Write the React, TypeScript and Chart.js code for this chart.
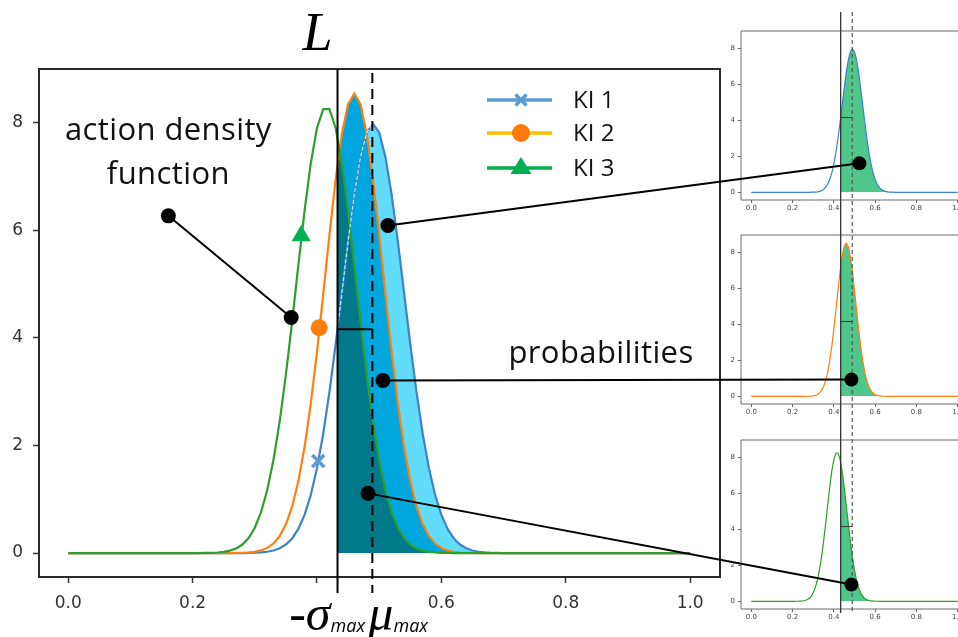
import React, { useEffect, useRef } from 'react';
import { Chart, registerables } from 'chart.js';

Chart.register(...registerables);

// ---------- data ----------
const xs = [0, 0.20, 0.21, 0.22, 0.23, 0.24, 0.25, 0.26, 0.27, 0.28, 0.29, 0.30, 0.31, 0.32, 0.33, 0.34, 0.35, 0.36, 0.37, 0.38, 0.39, 0.40, 0.41, 0.42, 0.43, 0.44, 0.45, 0.46, 0.47, 0.48, 0.49, 0.50, 0.51, 0.52, 0.53, 0.54, 0.55, 0.56, 0.57, 0.58, 0.59, 0.60, 0.61, 0.62, 0.63, 0.64, 0.65, 0.66, 0.67, 0.68, 0.69, 0.70, 1.0];
const ki1 = [0, 0, 0, 0, 0, 0, 0, 0, 0, 0, 0.003, 0.006, 0.012, 0.025, 0.048, 0.089, 0.158, 0.272, 0.448, 0.710, 1.080, 1.579, 2.218, 2.995, 3.884, 4.840, 5.794, 6.666, 7.366, 7.822, 7.98, 7.822, 7.366, 6.666, 5.794, 4.840, 3.884, 2.995, 2.218, 1.579, 1.080, 0.710, 0.448, 0.272, 0.158, 0.089, 0.048, 0.025, 0.012, 0.006, 0.003, 0, 0];
const ki2 = [0, 0, 0, 0, 0, 0, 0, 0, 0.002, 0.005, 0.011, 0.024, 0.049, 0.096, 0.177, 0.315, 0.534, 0.863, 1.334, 1.969, 2.778, 3.742, 4.815, 5.918, 6.948, 7.792, 8.346, 8.54, 8.346, 7.792, 6.948, 5.918, 4.815, 3.742, 2.778, 1.969, 1.334, 0.863, 0.534, 0.315, 0.177, 0.096, 0.049, 0.024, 0.011, 0.005, 0.002, 0, 0, 0, 0, 0, 0];
const ki3 = [0, 0, 0, 0.002, 0.005, 0.011, 0.023, 0.045, 0.087, 0.159, 0.279, 0.471, 0.759, 1.171, 1.731, 2.449, 3.318, 4.305, 5.349, 6.363, 7.248, 7.904, 8.255, 8.255, 7.904, 7.248, 6.363, 5.349, 4.305, 3.318, 2.449, 1.731, 1.171, 0.759, 0.471, 0.279, 0.159, 0.087, 0.045, 0.023, 0.011, 0.005, 0.002, 0, 0, 0, 0, 0, 0, 0, 0, 0, 0];

const seriesNames = ['KI 1', 'KI 2', 'KI 3'];
const markerXs = [0.402, 0.4035, 0.3746];
const markerYs = [1.71, 4.19, 5.9];

const xTicks = [0, 0.2, 0.4, 0.6, 0.8, 1.0];
const yTicks = [0, 2, 4, 6, 8];
const hiddenXTick = 0.4;

const L_X = 0.433;
const MU_X = 0.489;
const BRACKET_Y = 4.16;

const labelDotFrom = [0.161, 6.27];
const labelDotTo = [0.3585, 4.38];
const probDotsMain = [[0.514, 6.09], [0.506, 3.21], [0.482, 1.11]];
const probDotsSmall = [[0.524, 1.61], [0.485, 0.93], [0.485, 0.93]];

// ---------- styles ----------
const C = {
  ki1: '#3d83c8', ki2: '#ff7f0e', ki3: '#2ca02c',
  fill1: '#62dcfb', fill2: '#00a7de', fill3: '#007a8a',
  smallFill: '#4fc78a',
  leg1: '#5b9bd5', leg2: '#ffc000', leg3: '#00b050', legMk2: '#ff7a0a',
  axis: '#2a2a2a', tick: '#333',
};
const TEXT_FONT = '"Open Sans"';

const SMALL_LEFT = 720;
const SMALL_W = 250;
const smallSpecs = [
  { vals: ki1, color: C.ki1, top: 0, height: 217, plotTop: 31, plotBottom: 200 },
  { vals: ki2, color: C.ki2, top: 217, height: 203, plotTop: 235, plotBottom: 404 },
  { vals: ki3, color: C.ki3, top: 420, height: 217, plotTop: 440, plotBottom: 609 },
];

function curvePath(ctx: CanvasRenderingContext2D, chart: any, vals: number[]) {
  const x = chart.scales.x, y = chart.scales.y;
  ctx.beginPath();
  xs.forEach((v, i) => {
    const px = x.getPixelForValue(v), py = y.getPixelForValue(vals[i]);
    if (i === 0) ctx.moveTo(px, py); else ctx.lineTo(px, py);
  });
}

function fillCurve(ctx: CanvasRenderingContext2D, chart: any, vals: number[], color: string) {
  const { chartArea: a, scales } = chart;
  const x = scales.x, y = scales.y;
  const xl = x.getPixelForValue(L_X);
  const y0 = y.getPixelForValue(0);
  ctx.save();
  ctx.beginPath();
  ctx.rect(xl, a.top, a.right - xl, y0 - a.top);
  ctx.clip();
  ctx.beginPath();
  ctx.moveTo(x.getPixelForValue(xs[0]), y0);
  xs.forEach((v, i) => ctx.lineTo(x.getPixelForValue(v), y.getPixelForValue(vals[i])));
  ctx.lineTo(x.getPixelForValue(xs[xs.length - 1]), y0);
  ctx.closePath();
  ctx.fillStyle = color;
  ctx.fill();
  ctx.restore();
}

function dot(ctx: CanvasRenderingContext2D, px: number, py: number, r: number) {
  ctx.beginPath();
  ctx.arc(px, py, r, 0, Math.PI * 2);
  ctx.fillStyle = '#000';
  ctx.fill();
}

const noPadX = (s: any) => { s.paddingLeft = 0; s.paddingRight = 0; };

function makeSmall(canvas: HTMLCanvasElement, spec: any) {
  const plugin = {
    id: 'smallDeco',
    beforeDatasetsDraw(chart: any) {
      fillCurve(chart.ctx, chart, spec.vals, C.smallFill);
    },
    afterDraw(chart: any) {
      const { ctx, chartArea: a, scales } = chart;
      ctx.save();
      ctx.strokeStyle = '#6a6a6a';
      ctx.lineWidth = 1;
      ctx.beginPath();
      ctx.moveTo(chart.width + 5, a.top);
      ctx.lineTo(a.left, a.top);
      ctx.lineTo(a.left, a.bottom);
      ctx.lineTo(chart.width + 5, a.bottom);
      ctx.stroke();
      ctx.strokeStyle = '#333';
      const by = scales.y.getPixelForValue(BRACKET_Y);
      ctx.beginPath();
      ctx.moveTo(scales.x.getPixelForValue(L_X), by);
      ctx.lineTo(scales.x.getPixelForValue(MU_X), by);
      ctx.stroke();
      ctx.restore();
    },
  };
  const tickFont = { family: 'DejaVu Sans', size: 7 };
  return new Chart(canvas, {
    type: 'line',
    data: {
      datasets: [{
        data: xs.map((v, i) => ({ x: v, y: spec.vals[i] })),
        borderColor: spec.color, borderWidth: 1.2, pointRadius: 0, fill: false, tension: 0,
      }],
    },
    options: {
      animation: false, responsive: false, events: [],
      layout: { padding: { top: spec.plotTop - spec.top, right: 2, left: 0, bottom: 0 } },
      plugins: { legend: { display: false }, tooltip: { enabled: false } },
      scales: {
        x: {
          type: 'linear', min: -0.05, max: 1.05,
          afterFit: (s: any) => { s.height = spec.top + spec.height - spec.plotBottom; noPadX(s); },
          afterBuildTicks: (s: any) => { s.ticks = xTicks.map(v => ({ value: v })); },
          ticks: { callback: (v: any) => Number(v).toFixed(1), font: tickFont, color: '#444', padding: 1, maxRotation: 0, autoSkip: false },
          grid: { drawOnChartArea: false, tickLength: 3, tickColor: '#666' },
          border: { display: false },
        },
        y: {
          type: 'linear', min: -0.43, max: 8.98,
          afterFit: (s: any) => { s.width = 21; },
          afterBuildTicks: (s: any) => { s.ticks = yTicks.map(v => ({ value: v })); },
          ticks: { callback: (v: any) => String(v), font: tickFont, color: '#444', padding: 3, autoSkip: false },
          grid: { drawOnChartArea: false, tickLength: 3, tickColor: '#666' },
          border: { display: false },
        },
      },
    },
    plugins: [plugin],
  } as any);
}

function makeMain(canvas: HTMLCanvasElement, smalls: { chart: any; left: number; top: number }[]) {
  const curveSets = [
    { vals: ki3, color: C.ki3 },
    { vals: ki2, color: C.ki2 },
    { vals: ki1, color: C.ki1 },
  ];
  const markerDefs = [
    { style: 'crossRot', color: C.leg1, radius: 8.5, bw: 3.5 },
    { style: 'circle', color: C.ki2, radius: 8.5, bw: 0 },
    { style: 'triangle', color: C.leg3, radius: 11, bw: 0 },
  ];
  const datasets: any[] = [];
  markerDefs.forEach((m, i) => {
    datasets.push({
      label: seriesNames[i] + ' marker',
      data: [{ x: markerXs[i], y: markerYs[i] }],
      showLine: false, pointStyle: m.style, pointRadius: m.radius,
      pointBackgroundColor: m.color, pointBorderColor: m.color, pointBorderWidth: m.bw,
    });
  });
  curveSets.forEach((c, i) => {
    datasets.push({
      label: seriesNames[2 - i],
      data: xs.map((v, k) => ({ x: v, y: c.vals[k] })),
      borderColor: c.color, borderWidth: 2.2, pointRadius: 0, fill: false, tension: 0,
    });
  });

  const plugin = {
    id: 'mainDeco',
    beforeDatasetsDraw(chart: any) {
      const ctx = chart.ctx;
      fillCurve(ctx, chart, ki1, C.fill1);
      fillCurve(ctx, chart, ki2, C.fill2);
      fillCurve(ctx, chart, ki3, C.fill3);
    },
    afterDatasetsDraw(chart: any) {
      // light inner trace of KI 1 where it runs inside the filled region
      const { ctx, chartArea: a, scales } = chart;
      const xl = scales.x.getPixelForValue(L_X), xm = scales.x.getPixelForValue(MU_X);
      ctx.save();
      ctx.beginPath(); ctx.rect(xl + 1, a.top, xm - xl, a.bottom - a.top); ctx.clip();
      curvePath(ctx, chart, ki1);
      ctx.strokeStyle = '#c9ecff'; ctx.lineWidth = 1.1; ctx.setLineDash([4, 2]);
      ctx.stroke();
      ctx.restore();
    },
    afterDraw(chart: any) {
      const { ctx, chartArea: a, scales } = chart;
      const X = (v: number) => scales.x.getPixelForValue(v);
      const Y = (v: number) => scales.y.getPixelForValue(v);
      ctx.save();
      // frame
      ctx.strokeStyle = C.axis;
      ctx.lineWidth = 2;
      ctx.strokeRect(a.left, a.top, a.right - a.left, a.bottom - a.top);

      // L and mu lines
      const xL = X(L_X), xMu = X(MU_X);
      ctx.strokeStyle = '#000';
      ctx.lineWidth = 2;
      ctx.beginPath(); ctx.moveTo(xL, a.top); ctx.lineTo(xL, a.bottom + 16); ctx.stroke();
      ctx.setLineDash([10, 6]);
      ctx.beginPath(); ctx.moveTo(xMu, a.top + 4); ctx.lineTo(xMu, a.bottom + 16); ctx.stroke();
      ctx.setLineDash([]);
      ctx.beginPath(); ctx.moveTo(xL, Y(BRACKET_Y)); ctx.lineTo(xMu, Y(BRACKET_Y)); ctx.stroke();

      // long lines through the small charts
      const s1 = smalls[0], s3 = smalls[2];
      const sxL = s1.chart.scales.x.getPixelForValue(L_X) + s1.left;
      const sxMu = s1.chart.scales.x.getPixelForValue(MU_X) + s1.left;
      const yTopLong = s1.chart.chartArea.top + s1.top - 19;
      const yBotLong = s3.chart.chartArea.bottom + s3.top + 4;
      ctx.strokeStyle = '#333'; ctx.lineWidth = 1.3;
      ctx.beginPath(); ctx.moveTo(sxL, yTopLong); ctx.lineTo(sxL, yBotLong); ctx.stroke();
      ctx.strokeStyle = '#555'; ctx.lineWidth = 1.2; ctx.setLineDash([4, 3]);
      ctx.beginPath(); ctx.moveTo(sxMu, yTopLong); ctx.lineTo(sxMu, yBotLong); ctx.stroke();
      ctx.setLineDash([]);

      // legend
      const legX0 = a.left + 448, legX1 = a.left + 513, legMx = a.left + 482, legTx = a.left + 534;
      const rows = [a.top + 31, a.top + 64, a.top + 99];
      const legLineCols = [C.leg1, C.leg2, C.leg3];
      ctx.lineWidth = 3.5;
      rows.forEach((ry, i) => {
        ctx.strokeStyle = legLineCols[i];
        ctx.beginPath(); ctx.moveTo(legX0, ry); ctx.lineTo(legX1, ry); ctx.stroke();
      });
      ctx.strokeStyle = C.leg1; ctx.lineWidth = 3.5;
      const cr = 5.5;
      ctx.beginPath();
      ctx.moveTo(legMx - cr, rows[0] - cr); ctx.lineTo(legMx + cr, rows[0] + cr);
      ctx.moveTo(legMx + cr, rows[0] - cr); ctx.lineTo(legMx - cr, rows[0] + cr);
      ctx.stroke();
      ctx.fillStyle = C.legMk2;
      ctx.beginPath(); ctx.arc(legMx, rows[1], 9, 0, Math.PI * 2); ctx.fill();
      ctx.fillStyle = C.leg3;
      ctx.beginPath();
      ctx.moveTo(legMx, rows[2] - 11); ctx.lineTo(legMx + 10.5, rows[2] + 6); ctx.lineTo(legMx - 10.5, rows[2] + 6);
      ctx.closePath(); ctx.fill();
      ctx.fillStyle = '#111';
      ctx.font = `24px ${TEXT_FONT}`;
      ctx.textAlign = 'left'; ctx.textBaseline = 'middle';
      rows.forEach((ry, i) => ctx.fillText(seriesNames[i], legTx, ry + 1));

      // annotation text
      ctx.textBaseline = 'alphabetic';
      ctx.textAlign = 'center';
      ctx.font = `31px ${TEXT_FONT}`;
      (ctx as any).letterSpacing = '0.4px';
      const fx = X(labelDotFrom[0]), fy = Y(labelDotFrom[1]);
      ctx.fillText('action density', fx, fy - 76);
      ctx.fillText('function', fx, fy - 32);
      ctx.fillText('probabilities', a.right - 119, Y(probDotsMain[1][1]) - 17);
      (ctx as any).letterSpacing = '0px';

      // connectors
      ctx.strokeStyle = '#000'; ctx.lineWidth = 2;
      ctx.beginPath(); ctx.moveTo(fx, fy); ctx.lineTo(X(labelDotTo[0]), Y(labelDotTo[1])); ctx.stroke();
      const ends: number[][] = [];
      probDotsMain.forEach((p, i) => {
        const s = smalls[i];
        const ex = s.chart.scales.x.getPixelForValue(probDotsSmall[i][0]) + s.left;
        const ey = s.chart.scales.y.getPixelForValue(probDotsSmall[i][1]) + s.top;
        ends.push([ex, ey]);
        ctx.beginPath(); ctx.moveTo(X(p[0]), Y(p[1])); ctx.lineTo(ex, ey); ctx.stroke();
      });
      dot(ctx, fx, fy, 7.5);
      dot(ctx, X(labelDotTo[0]), Y(labelDotTo[1]), 7.5);
      probDotsMain.forEach(p => dot(ctx, X(p[0]), Y(p[1]), 7.5));
      ends.forEach(e => dot(ctx, e[0], e[1], 7));

      // L label and -sigma / mu labels
      ctx.fillStyle = '#000';
      ctx.textAlign = 'center';
      ctx.font = 'italic 54px "Liberation Serif"';
      ctx.fillText('L', xL - 20, 50);
      ctx.textAlign = 'right';
      ctx.font = 'italic 50px "Liberation Serif"';
      ctx.fillText('-σ', xL - 7, 630);
      ctx.textAlign = 'left';
      ctx.font = `italic 18px ${TEXT_FONT}`;
      ctx.fillText('max', xL - 7, 632);
      ctx.font = 'italic 50px "Liberation Serif"';
      const muW = ctx.measureText('μ').width;
      ctx.fillText('μ', xMu - 4, 630);
      ctx.font = `italic 18px ${TEXT_FONT}`;
      ctx.fillText('max', xMu - 4 + muW, 632);
      ctx.restore();
    },
  };

  const tickFont = { family: 'DejaVu Sans', size: 17 };
  return new Chart(canvas, {
    type: 'line',
    data: { datasets },
    options: {
      animation: false, responsive: false, events: [],
      layout: { padding: { left: 0, top: 69, right: 238, bottom: 0 } },
      plugins: { legend: { display: false }, tooltip: { enabled: false } },
      scales: {
        x: {
          type: 'linear', min: -0.047, max: 1.048,
          afterFit: (s: any) => { s.height = 60; noPadX(s); },
          afterBuildTicks: (s: any) => { s.ticks = xTicks.map(v => ({ value: v })); },
          ticks: {
            callback: (v: any) => (Math.abs(Number(v) - hiddenXTick) < 1e-9 ? '' : Number(v).toFixed(1)),
            font: tickFont, color: C.tick, padding: 10, maxRotation: 0, autoSkip: false,
          },
          grid: { drawOnChartArea: false, tickLength: 6, tickWidth: 1.5, tickColor: C.tick },
          border: { display: false },
        },
        y: {
          type: 'linear', min: -0.445, max: 9.0,
          afterFit: (s: any) => { s.width = 39; },
          afterBuildTicks: (s: any) => { s.ticks = yTicks.map(v => ({ value: v })); },
          ticks: { callback: (v: any) => String(v), font: tickFont, color: C.tick, padding: 10, autoSkip: false },
          grid: { drawOnChartArea: false, tickLength: 6, tickWidth: 1.5, tickColor: C.tick },
          border: { display: false },
        },
      },
    },
    plugins: [plugin],
  } as any);
}

export default function App() {
  const mainRef = useRef<HTMLCanvasElement>(null);
  const r1 = useRef<HTMLCanvasElement>(null);
  const r2 = useRef<HTMLCanvasElement>(null);
  const r3 = useRef<HTMLCanvasElement>(null);

  useEffect(() => {
    const refs = [r1, r2, r3];
    const smalls = smallSpecs.map((spec, i) => ({
      chart: makeSmall(refs[i].current as HTMLCanvasElement, spec),
      left: SMALL_LEFT,
      top: spec.top,
    }));
    const main = makeMain(mainRef.current as HTMLCanvasElement, smalls);
    return () => {
      main.destroy();
      smalls.forEach(s => s.chart.destroy());
    };
  }, []);

  const refs = [r1, r2, r3];
  return (
    <div style={{ position: 'fixed', left: 0, top: 0, width: 958, height: 637, overflow: 'hidden', background: '#fff' }}>
      {smallSpecs.map((s, i) => (
        <canvas key={i} ref={refs[i]} width={SMALL_W} height={s.height}
          style={{ position: 'absolute', left: SMALL_LEFT, top: s.top, width: SMALL_W, height: s.height }} />
      ))}
      <canvas ref={mainRef} width={958} height={637}
        style={{ position: 'absolute', left: 0, top: 0, width: 958, height: 637, pointerEvents: 'none' }} />
    </div>
  );
}
